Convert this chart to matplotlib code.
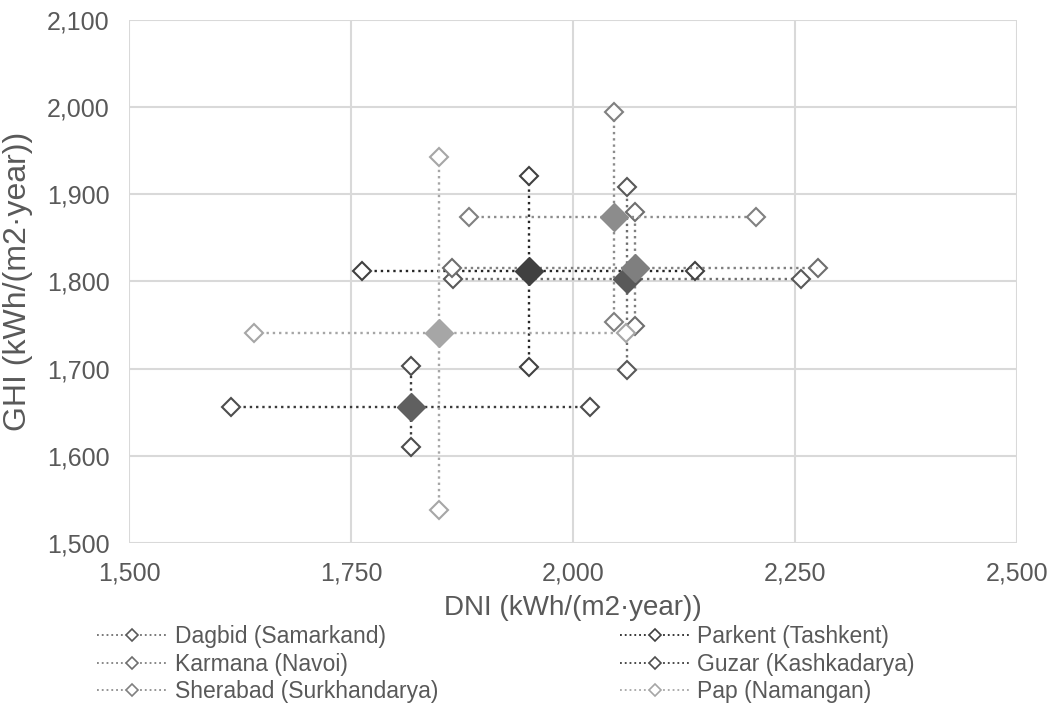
import matplotlib
matplotlib.use("Agg")
import matplotlib.pyplot as plt
from matplotlib.lines import Line2D
from matplotlib.ticker import FuncFormatter, MultipleLocator

plt.rcParams["font.family"] = ["Liberation Sans", "DejaVu Sans"]
TXT = "#595959"

# site data: centre point plus min/max of DNI and GHI
sites = ["Dagbid (Samarkand)", "Parkent (Tashkent)", "Karmana (Navoi)",
         "Guzar (Kashkadarya)", "Sherabad (Surkhandarya)", "Pap (Namangan)"]
dni_center = [2061, 1950, 2070, 1817, 2046, 1849]
dni_min = [1865, 1762, 1863, 1615, 1883, 1640]
dni_max = [2256, 2137, 2276, 2019, 2206, 2059]
ghi_center = [1803, 1812, 1815, 1656, 1874, 1741]
ghi_min = [1698, 1702, 1749, 1610, 1754, 1538]
ghi_max = [1908, 1921, 1880, 1703, 1994, 1943]

line_colors = ["#6e6e6e", "#262626", "#7f7f7f", "#3a3a3a", "#8c8c8c", "#a6a6a6"]
fill_colors = ["#595959", "#404040", "#7f7f7f", "#606060", "#8c8c8c", "#a6a6a6"]
edge_colors = ["#595959", "#404040", "#6e6e6e", "#4d4d4d", "#808080", "#a6a6a6"]

fig = plt.figure(figsize=(10.5, 7.09), dpi=100)
ax = fig.add_axes([0.123, 0.234, 0.846, 0.738])

handles = []
for i, name in enumerate(sites):
    lc, fc, ec = line_colors[i], fill_colors[i], edge_colors[i]
    # horizontal arm (DNI range)
    ax.plot([dni_min[i], dni_max[i]], [ghi_center[i], ghi_center[i]],
            ls=":", lw=1.7, color=lc, marker="D", ms=9,
            mfc="white", mec=ec, mew=1.5, zorder=3)
    # vertical arm (GHI range)
    ax.plot([dni_center[i], dni_center[i]], [ghi_min[i], ghi_max[i]],
            ls=":", lw=1.7, color=lc, marker="D", ms=9,
            mfc="white", mec=ec, mew=1.5, zorder=3)
    ax.plot([dni_center[i]], [ghi_center[i]], ls="none", marker="D",
            ms=14, color=fc, mec=fc, zorder=4)
    handles.append(Line2D([], [], ls=":", lw=1.3, color=lc, marker="D",
                          ms=6.5, mfc="white", mec=ec, mew=1.2, label=name))

ax.set_xlim(1500, 2500)
ax.set_ylim(1500, 2100)
ax.xaxis.set_major_locator(MultipleLocator(250))
ax.yaxis.set_major_locator(MultipleLocator(100))
fmt = FuncFormatter(lambda v, p: f"{int(v):,}")
ax.xaxis.set_major_formatter(fmt)
ax.yaxis.set_major_formatter(fmt)
ax.grid(True, color="#d9d9d9", lw=1.5, zorder=0)
ax.set_axisbelow(True)
for s in ax.spines.values():
    s.set_visible(False)
ax.tick_params(length=0, labelsize=18, colors=TXT)
ax.tick_params(axis="x", pad=13)
ax.tick_params(axis="y", pad=14)

ax.set_xlabel("DNI (kWh/(m2·year))", fontsize=20, color=TXT, va="center")
ax.xaxis.set_label_coords(0.5, -0.125)
ax.set_ylabel("GHI (kWh/(m2·year))", fontsize=23, color=TXT, va="center")
ax.yaxis.set_label_coords(-0.125, 0.5)

# two one-column legends, left and right, read row by row like the original
for col, x0 in [([0, 2, 4], 0.092), ([1, 3, 5], 0.590)]:
    leg = fig.legend([handles[k] for k in col], [sites[k] for k in col],
                     loc="upper left", bbox_to_anchor=(x0, 0.1185),
                     frameon=False, fontsize=16.5, handlelength=3.1,
                     handletextpad=0.3, labelspacing=0.2,
                     borderpad=0, borderaxespad=0)
    for t in leg.get_texts():
        t.set_color(TXT)

fig.savefig("out.png", dpi=100)
